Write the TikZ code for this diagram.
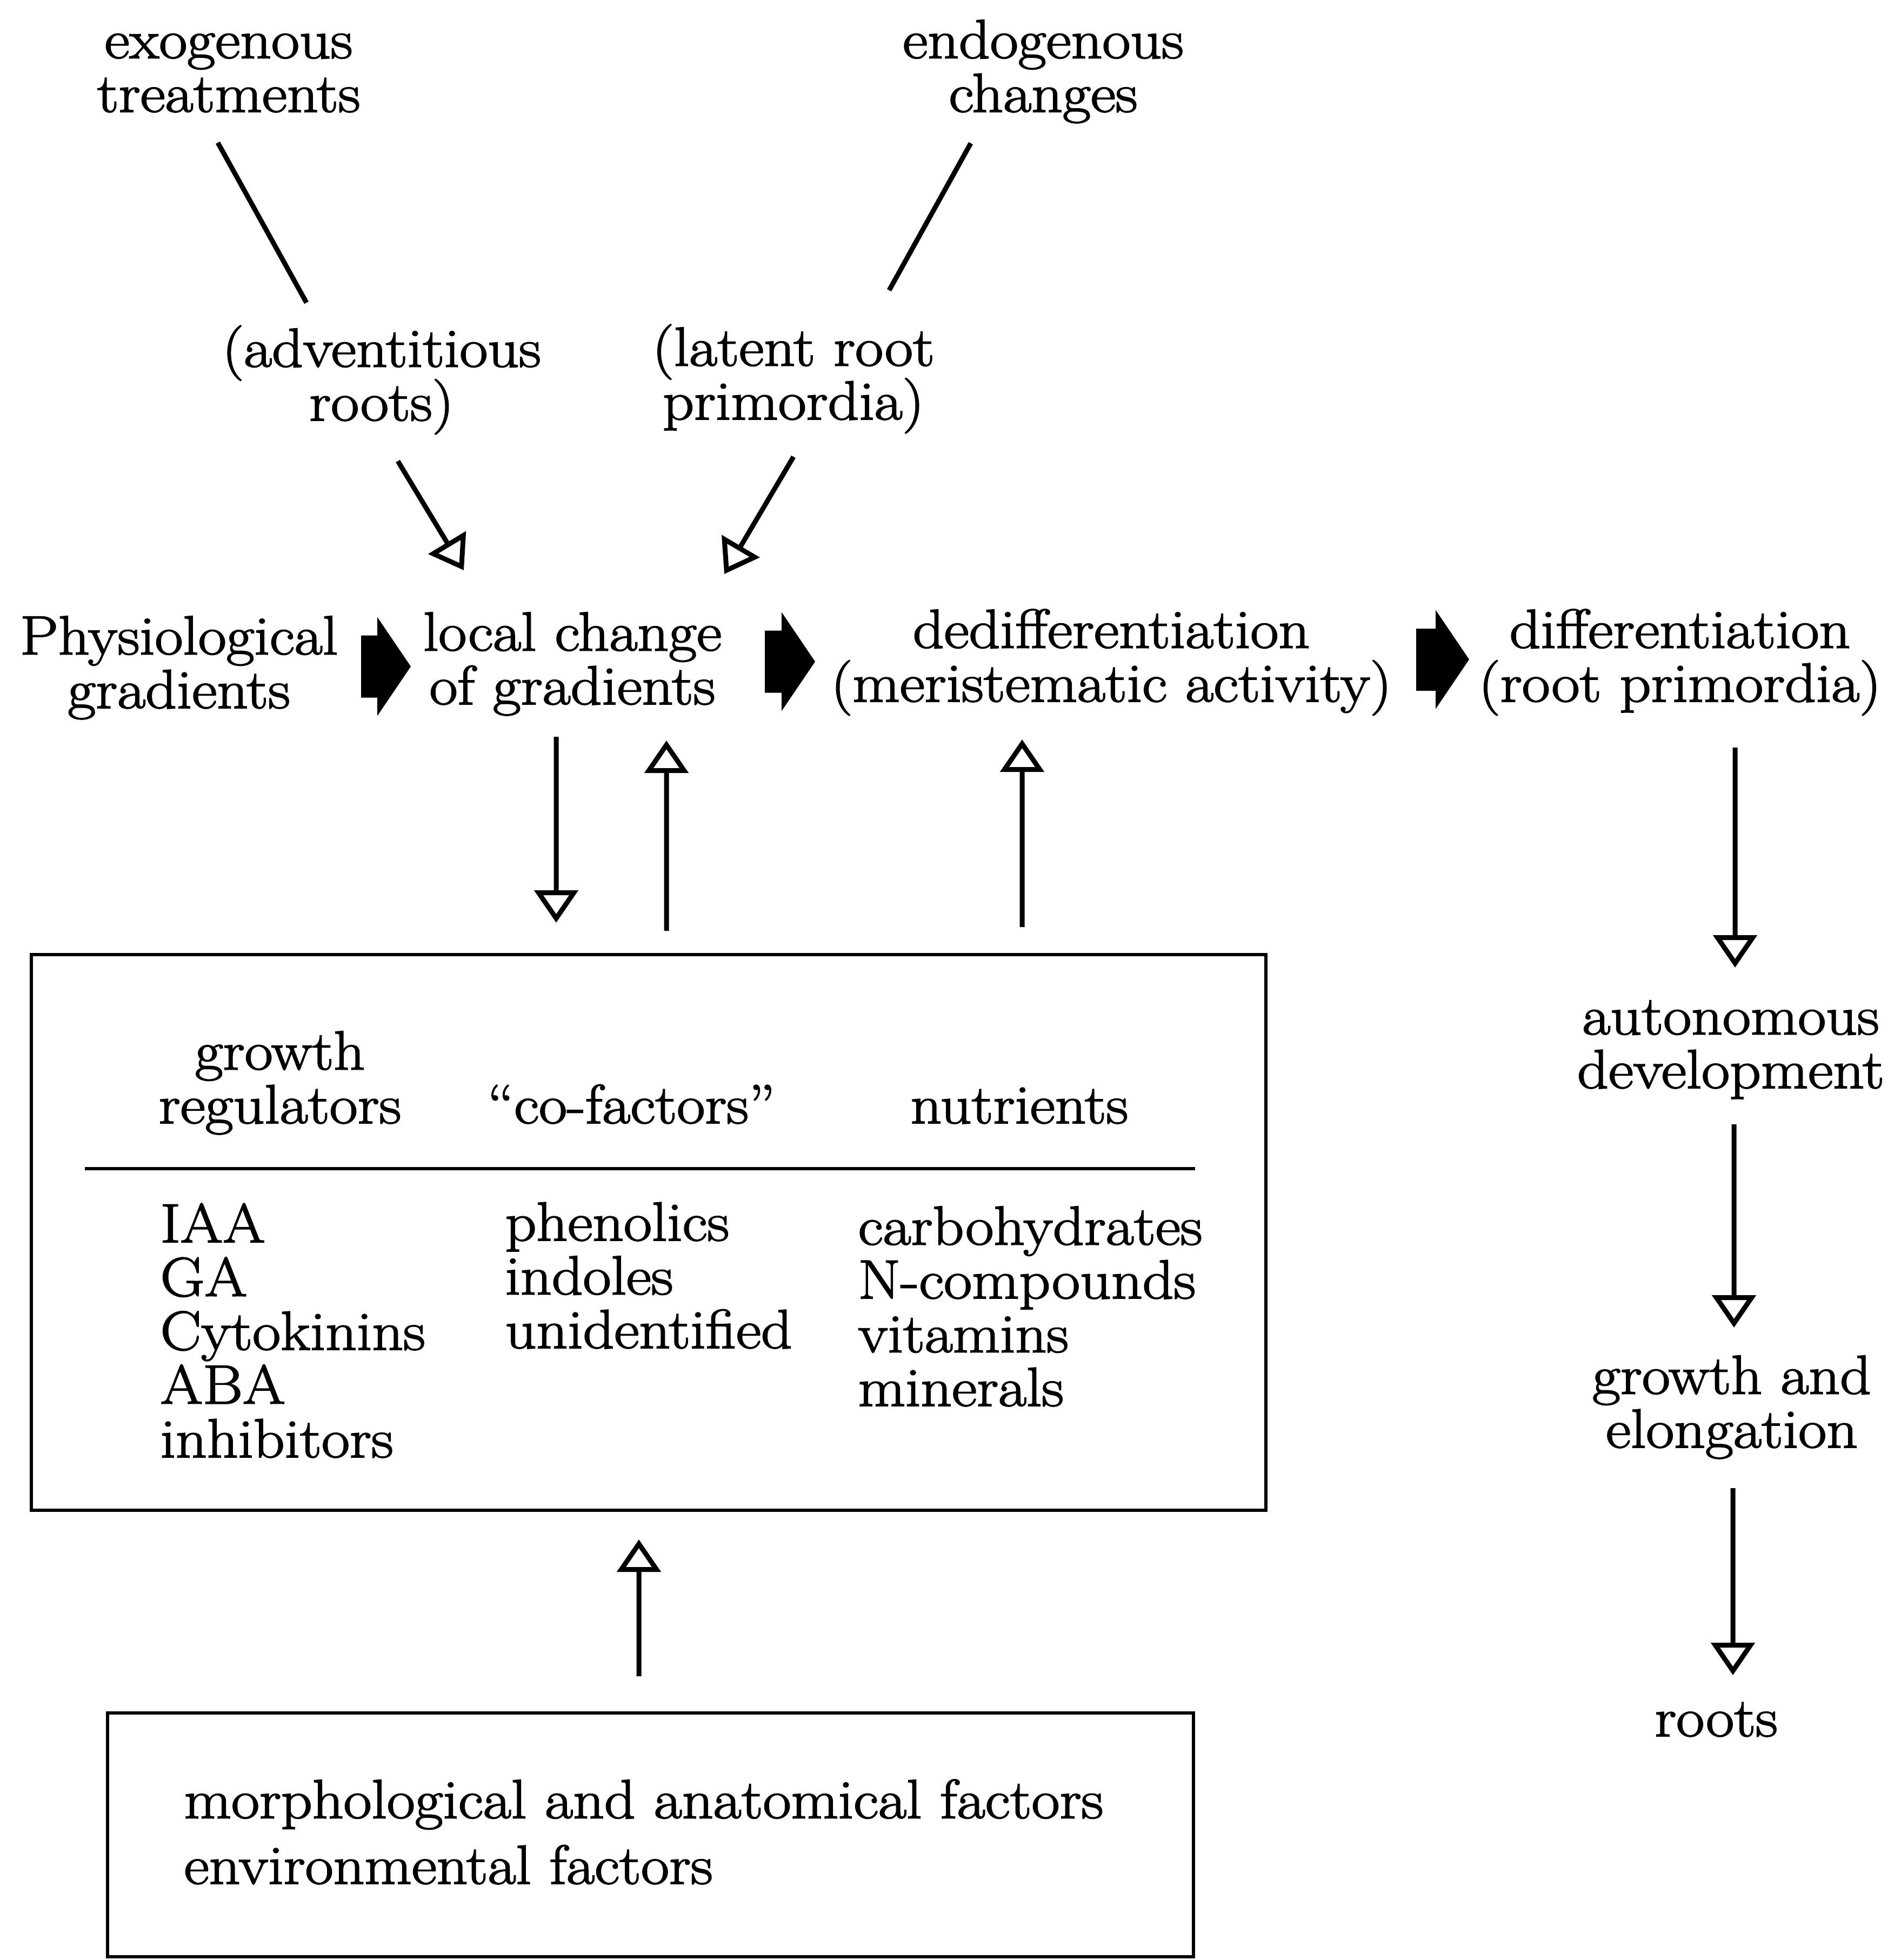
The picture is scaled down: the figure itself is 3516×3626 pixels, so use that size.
\documentclass[tikz,border=0pt]{standalone}
\usepackage{fontspec}
\setmainfont{Latin Modern Roman}[FakeBold=2,FakeStretch=1.11]
\usetikzlibrary{arrows.meta,positioning}

\begin{document}
\begin{tikzpicture}[x=0.1mm,y=-0.1mm]
\tikzstyle{every node}=[inner sep=0pt,font={\fontsize{29}{28.3}\selectfont\lineskiplimit=-50pt\lineskip=0pt}]
\tikzstyle{txt}=[align=center,anchor=base]
\tikzstyle{col}=[align=left,anchor=base west]
\tikzstyle{panel}=[draw,line width=0.6mm]
\tikzstyle{link}=[line width=0.9mm]
\tikzstyle{flow}=[line width=0.9mm,-{Triangle[open,length=6mm,width=8mm]}]
\tikzstyle{bigflow}=[line width=11.5mm,-{Triangle[length=6.2mm,width=18.3mm,line width=0pt]}]
\useasboundingbox (0,0) rectangle (3516,3626);

% top (base = last line)
\node[txt] (7) at (423,207) {exogenous\\treatments};
\node[txt] (8) at (1930,207) {endogenous\\changes};
\node[txt] (9) at (706,778) {(adventitious\\roots)};
\node[txt] (10) at (1468,776) {(latent root\\primordia)};

% main row
\node[txt] (0) at (331,1310) {Physiological\\gradients};
\node[txt] (1) at (1059,1303) {local change\\of gradients};
\node[txt] (2) at (2056,1298) {dedifferentiation\\(meristematic activity)};
\node[txt] (3) at (3108,1298) {differentiation\\(root primordia)};

% right column
\node[txt] (4) at (3202,2013) {autonomous\\development};
\node[txt] (5) at (3204,2678) {growth and\\elongation};
\node[txt] (6) at (3175,3212) {roots};

% box of factors
\node[panel,minimum width=228.4mm,minimum height=102.8mm] (11) at (1200,2280) {};
\node[txt] (11a) at (518,2078) {growth\\regulators};
\node[txt] (11b) at (1168,2078) {``co-factors''};
\node[txt] (11c) at (1886,2078) {nutrients};
\draw[line width=0.6mm] (157,2162) -- (2211,2162);
\node[col] (11d) at (296,2696) {IAA\\GA\\Cytokinins\\ABA\\inhibitors};
\node[col] (11e) at (934,2494) {phenolics\\indoles\\unidentified};
\node[col] (11f) at (1587,2601) {carbohydrates\\N-compounds\\vitamins\\minerals};

\node[panel,minimum width=200.9mm,minimum height=45.1mm] (12) at (1203.5,3394.5) {};
\node[col] (12a) at (340,3485) {morphological and anatomical factors\\[2.2mm]environmental factors};

\draw[link] ([xshift=-2mm,yshift=-5.7mm]7.base) -- ([xshift=-13.9mm,yshift=21.8mm]9.base);
\draw[link] ([xshift=-13.4mm,yshift=-5.8mm]8.base) -- ([xshift=17.7mm,yshift=23.9mm]10.base);
\draw[flow] ([xshift=3mm,yshift=-7.5mm]9.base) -- ([xshift=-20.1mm,yshift=24.8mm]1.base);
\draw[flow] ([yshift=-6.9mm]10.base) -- ([xshift=28.1mm,yshift=24.1mm]1.base);

\draw[bigflow] ([xshift=33.7mm,yshift=7.7mm]0.base) -- ([xshift=-29.9mm,yshift=7mm]1.base);
\draw[bigflow] ([xshift=35.6mm,yshift=7.9mm]1.base) -- ([xshift=-54.8mm,yshift=7.4mm]2.base);
\draw[bigflow] ([xshift=56.4mm,yshift=7.8mm]2.base) -- ([xshift=-39mm,yshift=7.8mm]3.base);

\draw[flow] ([xshift=-3mm,yshift=-6mm]1.base) -- ([xshift=-17.1mm,yshift=5.6mm]11.north);
\draw[flow] ([xshift=3.3mm,yshift=4.1mm]11.north) -- ([xshift=17.4mm,yshift=-6.7mm]1.base);
\draw[flow] ([xshift=69.1mm,yshift=4.8mm]11.north) -- ([xshift=-16.5mm,yshift=-7mm]2.base);
\draw[flow] ([xshift=-2.15mm,yshift=6.5mm]12.north) -- ([xshift=-1.8mm,yshift=-5.1mm]11.south);

\draw[flow] ([xshift=10.2mm,yshift=-8.5mm]3.base) -- ([xshift=0.8mm,yshift=22.3mm]4.base);
\draw[flow] ([xshift=0.6mm,yshift=-6.7mm]4.base) -- ([xshift=0.4mm,yshift=22.2mm]5.base);
\draw[flow] ([xshift=0.2mm,yshift=-7.5mm]5.base) -- ([xshift=3.1mm,yshift=11.3mm]6.base);

\end{tikzpicture}
\end{document}
